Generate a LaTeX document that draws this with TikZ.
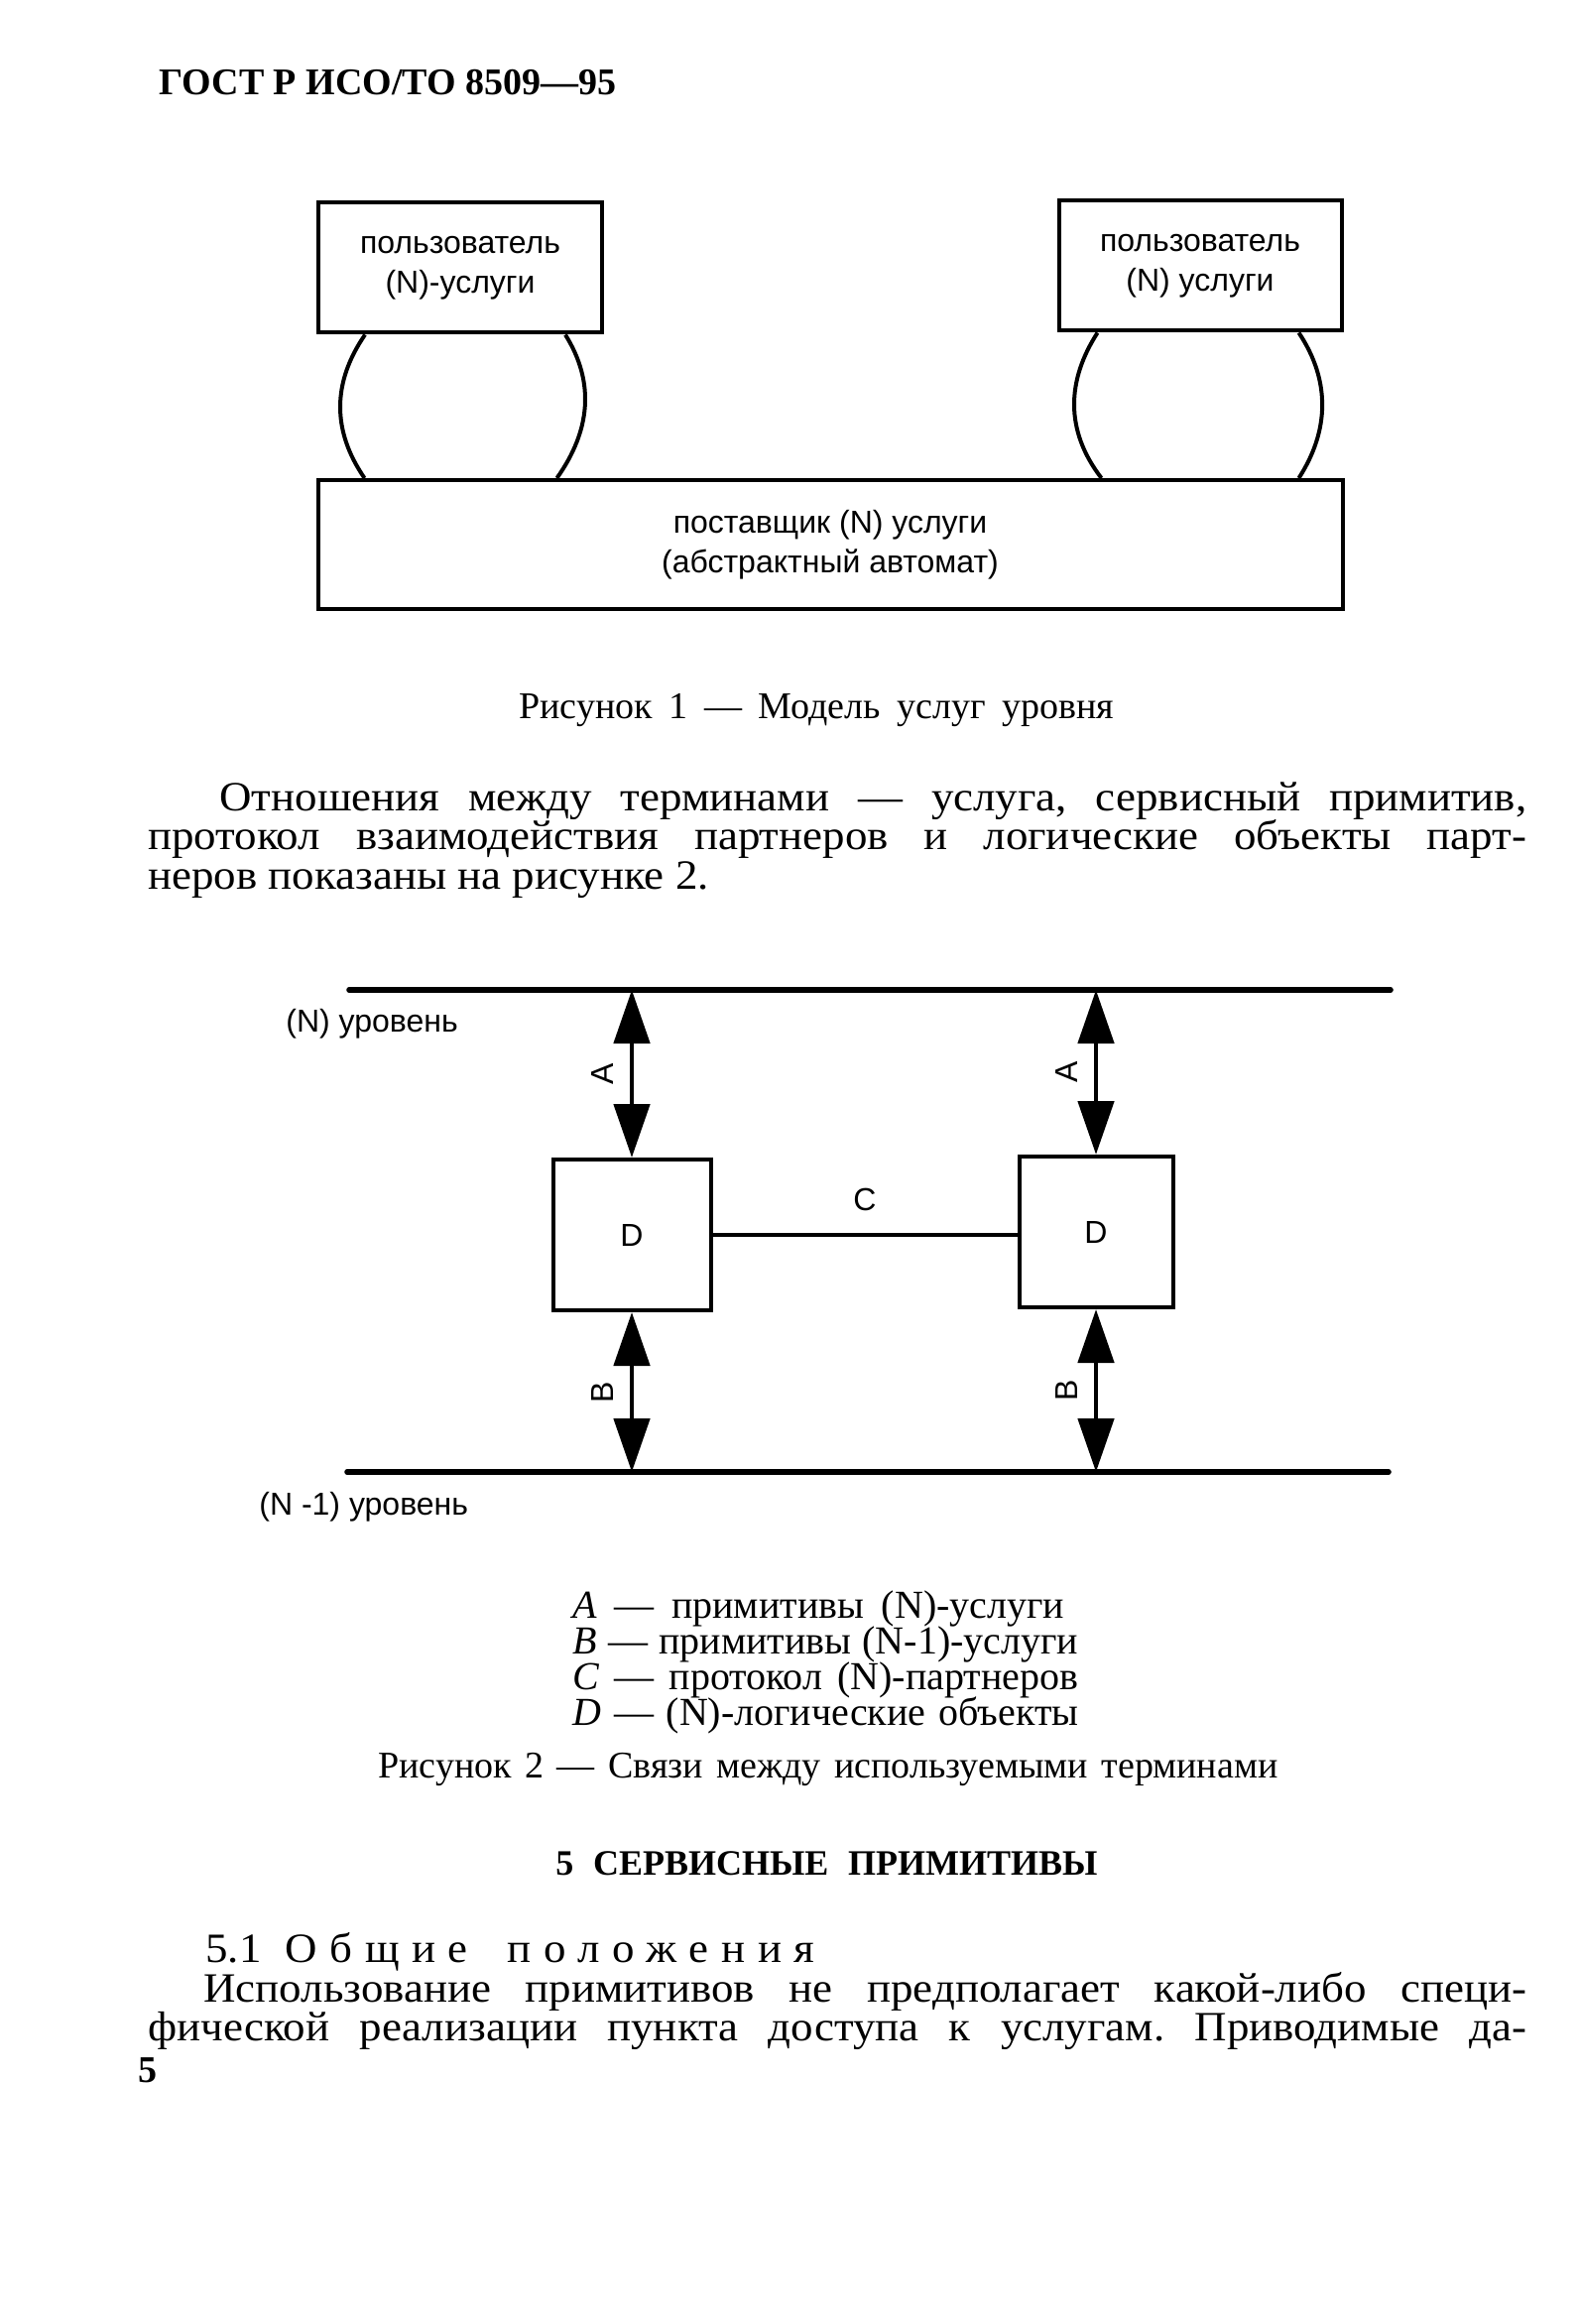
\documentclass[tikz,border=0pt]{standalone}
\usepackage{fontspec}
\setmainfont{Liberation Serif}
\setsansfont{Liberation Sans}
\newfontfamily\bodyfont[FakeStretch=1.07]{Liberation Serif}
\usetikzlibrary{arrows.meta, calc}
\frenchspacing

% a line of text spread to a given width
\newcommand{\spreadline}[2]{\makebox[#1][s]{#2}}

\begin{document}
\begin{tikzpicture}[
  % one unit is one pixel of the page, y runs down
  x=0.5pt, y=-0.5pt,
  page/.style={inner sep=0pt, anchor=base west},
  body/.style={page, font=\bodyfont\fontsize{21}{24}\selectfont},
  caption/.style={page, font=\fontsize{19}{22}\selectfont},
  legend/.style={page, font=\fontsize{20}{24}\selectfont},
  block/.style={
    % The border:
    draw, line width=2pt,
    % no padding, the size is set per block
    inner sep=0pt,
    % Font
    font=\sffamily\fontsize{16}{20}\selectfont,
    align=center
  },
  lens/.style={line width=2pt},
  level/.style={line width=2.8pt, line cap=round},
  prim/.style={line width=2.4pt,
    {Triangle[length=27pt, width=18pt]}-{Triangle[length=27pt, width=18pt]}},
  tag/.style={font=\sffamily\fontsize{16}{18}\selectfont, inner sep=0pt},
  ]

  \useasboundingbox (0,0) rectangle (1591,2343);

  % page head
  \node (head) [page, font=\bfseries\fontsize{19}{22}\selectfont] at (160,96) {ГОСТ Р ИСО/ТО 8509—95};

  % Figure 1: users on top of the provider
  \node (usrL) [block, minimum width=143pt, minimum height=65.5pt] at (464,270) {пользователь\\(N)-услуги};
  \node (usrR) [block, minimum width=142.5pt, minimum height=65.5pt] at (1210,268) {пользователь\\(N) услуги};
  \node (prov) [block, minimum width=516.5pt, minimum height=65pt] at (837,549) {поставщик (N) услуги\\(абстрактный автомат)};

  \draw [lens] ([xshift=24.5pt]usrL.south west) .. controls +(-33,48) and +(-33,-48) .. ([xshift=24.5pt]prov.north west);
  \draw [lens] ([xshift=-19.5pt]usrL.south east) .. controls +(30,48) and +(34,-48) .. ([xshift=121.5pt]prov.north west);
  \draw [lens] ([xshift=20.5pt]usrR.south west) .. controls +(-31,48) and +(-37,-48) .. ([xshift=396pt]prov.north west);
  \draw [lens] ([xshift=-22.5pt]usrR.south east) .. controls +(32,48) and +(31,-48) .. ([xshift=-23pt]prov.north east);

  \node (cap1) [caption] at (523,724) {\spreadline{300pt}{Рисунок 1 — Модель услуг уровня}};

  \node (par1) [body] at (221,817) {\spreadline{659pt}{Отношения между терминами — услуга, сервисный примитив,}};
  \node (par2) [body] at (149,856) {\spreadline{695pt}{протокол взаимодействия партнеров и логические объекты парт-}};
  \node (par3) [body] at (149,896) {неров показаны на рисунке 2.};

  % Figure 2: two levels, two entities
  \coordinate (topW) at (352,998);
  \coordinate (topE) at (1402,998);
  \coordinate (botW) at (350,1484);
  \coordinate (botE) at (1400,1484);
  \draw [level] (topW) -- (topE);
  \draw [level] (botW) -- (botE);
  \node (nLev) [tag, anchor=west] at (288,1032) {(N) уровень};
  \node (n1Lev) [tag, anchor=west] at (261,1519) {(N -1) уровень};

  \node (dL) [block, minimum width=79.5pt, minimum height=76pt] at (637,1245) {D};
  \node (dR) [block, minimum width=77.5pt, minimum height=76pt] at (1105,1242) {D};

  \draw [line width=2pt] (dL.east) -- node [tag, above=11pt] (cTag) {C} (dR.west |- dL.east);

  \draw [prim] (dL.north |- topW) -- node [xshift=-15pt, tag, rotate=90] (aL) {A} (dL.north);
  \draw [prim] (dR.north |- topW) -- node [xshift=-15pt, tag, rotate=90] (aR) {A} (dR.north);
  \draw [prim] (dL.south) -- node [xshift=-15pt, tag, rotate=90] (bL) {B} (dL.south |- botW);
  \draw [prim] (dR.south) -- node [xshift=-15pt, tag, rotate=90] (bR) {B} (dR.south |- botW);

  % legend
  \node (legA) [legend] at (577,1631) {\spreadline{248pt}{\textit{A} — примитивы (N)-услуги}};
  \node (legB) [legend] at (577,1667) {\spreadline{255pt}{\textit{B} — примитивы (N-1)-услуги}};
  \node (legC) [legend] at (577,1703) {\spreadline{255pt}{\textit{C} — протокол (N)-партнеров}};
  \node (legD) [legend] at (577,1739) {\spreadline{255pt}{\textit{D} — (N)-логические объекты}};
  \node (cap2) [caption] at (381,1792) {\spreadline{453.5pt}{Рисунок 2 — Связи между используемыми терминами}};

  % next section
  \node (sec) [page, font=\bfseries\fontsize{18}{21}\selectfont] at (560,1890) {\spreadline{273pt}{5 СЕРВИСНЫЕ ПРИМИТИВЫ}};
  \node (sub) [body] at (207,1978) {5.1\hspace{12pt}{\addfontfeatures{LetterSpace=30}Общие\hspace{8pt} положения}};
  \node (txt1) [body] at (205,2018) {\spreadline{667pt}{Использование примитивов не предполагает какой-либо специ-}};
  \node (txt2) [body] at (149,2057) {\spreadline{695pt}{фической реализации пункта доступа к услугам. Приводимые да-}};

  \node (pgno) [page, font=\bfseries\fontsize{19}{22}\selectfont] at (139,2099) {5};

\end{tikzpicture}
\end{document}
